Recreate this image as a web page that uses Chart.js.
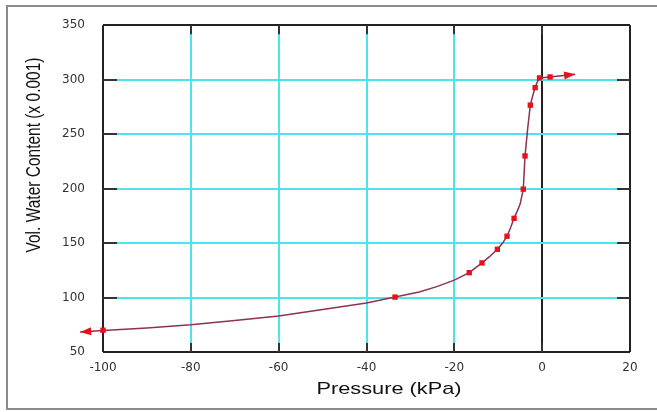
<!DOCTYPE html>
<html>
<head>
<meta charset="utf-8">
<script src="https://cdn.jsdelivr.net/npm/chart.js@4.4.1/dist/chart.umd.min.js"></script>
<style>
  html, body { margin: 0; padding: 0; background: #fff; overflow: hidden; }
  #wrap { position: relative; width: 657px; height: 412px; overflow: hidden; }
  #frame { position: absolute; left: 6px; top: 5px; width: 700px; height: 401px; border: 2px solid #8c8c8c; }
  #myChart { position: absolute; left: 0; top: 0; }
</style>
</head>
<body>
<div id="wrap">
  <div id="frame"></div>
  <canvas id="myChart" width="657" height="412"></canvas>
</div>
<script>
// 軸の目盛り
const X_TICKS = [-100, -80, -60, -40, -20, 0, 20];
const Y_TICKS = [50, 100, 150, 200, 250, 300, 350];

// 測定点 (kPa, x 0.001)
const obsPressure = [-100, -33.5, -16.6, -13.7, -10.2, -8.0, -6.4, -4.3, -3.9, -2.7, -1.6, -0.6, 1.8];
const obsWater = [70, 100.4, 122.8, 131.8, 144.3, 156.3, 172.7, 199.5, 230, 276.6, 292.7, 301.6, 302.5];

// 近似曲線。両端が矢印の先
const curvePressure = [-105.2, -100, -90, -80, -70, -60, -50, -40, -33.5, -28, -24, -20, -16.6, -13.7, -12, -10.2, -9, -8, -7.2, -6.4, -5.6, -5.0, -4.3, -3.9, -3.3, -2.7, -2.1, -1.6, -1.1, -0.6, 1.8, 7.5];
const curveWater = [68.3, 69.7, 72, 75, 79, 83, 89, 95, 100.4, 105, 110, 116, 122.8, 131.8, 137.5, 144.3, 150, 156.3, 164, 172.7, 180, 186, 199.5, 230, 255, 276.6, 286, 292.7, 298, 301.6, 302.5, 305];

const toPoints = (xs, ys) => xs.map((x, i) => ({ x, y: ys[i] }));

const CYAN = "#4fe3ee";
const DARK = "#222";
const RED = "#e8101c";

const gridColor = (edges) => (ctx) => {
  const v = ctx.tick ? ctx.tick.value : null;
  return edges.includes(v) ? DARK : CYAN;
};

// 枠の内側の短い目盛り線
const innerTicks = {
  id: "innerTicks",
  beforeDatasetsDraw(chart) {
    const { ctx, chartArea: a, scales } = chart;
    ctx.save();
    ctx.strokeStyle = "#333";
    ctx.lineWidth = 2;
    X_TICKS.slice(1, -1).forEach((v) => {
      const px = Math.round(scales.x.getPixelForValue(v));
      ctx.beginPath();
      ctx.moveTo(px, a.top); ctx.lineTo(px, a.top + 9);
      ctx.moveTo(px, a.bottom - 9); ctx.lineTo(px, a.bottom);
      ctx.stroke();
    });
    Y_TICKS.slice(1, -1).forEach((v) => {
      const py = Math.round(scales.y.getPixelForValue(v));
      ctx.beginPath();
      ctx.moveTo(a.left, py); ctx.lineTo(a.left + 14, py);
      ctx.moveTo(a.right - 13, py); ctx.lineTo(a.right, py);
      ctx.stroke();
    });
    ctx.restore();
  },
};

// 曲線の両端の矢印（枠の外にも描く）
const curveArrows = {
  id: "curveArrows",
  afterDatasetsDraw(chart) {
    const { ctx, scales } = chart;
    const n = curvePressure.length;
    const ends = [[0, 1], [n - 1, n - 2]];
    ctx.save();
    ctx.fillStyle = RED;
    ends.forEach(([tip, base]) => {
      const tx = scales.x.getPixelForValue(curvePressure[tip]);
      const ty = scales.y.getPixelForValue(curveWater[tip]);
      const bx = scales.x.getPixelForValue(curvePressure[base]);
      const by = scales.y.getPixelForValue(curveWater[base]);
      const ang = Math.atan2(ty - by, tx - bx);
      ctx.save();
      ctx.translate(tx, ty);
      ctx.rotate(ang);
      ctx.beginPath();
      ctx.moveTo(0, 0);
      ctx.lineTo(-11, -4);
      ctx.lineTo(-11, 4);
      ctx.closePath();
      ctx.fill();
      ctx.restore();
    });
    ctx.restore();
  },
};

// 軸タイトル（横に少し引き伸ばした元画像に合わせる）
const axisTitles = {
  id: "axisTitles",
  afterDraw(chart) {
    const { ctx } = chart;
    ctx.save();
    ctx.fillStyle = "#111";
    ctx.textAlign = "center";
    ctx.textBaseline = "middle";

    ctx.save();
    ctx.translate(389, 389);
    ctx.scale(1.28, 1);
    ctx.font = "17px 'Liberation Sans', Arial, sans-serif";
    ctx.fillText("Pressure (kPa)", 0, 0);
    ctx.restore();

    ctx.save();
    ctx.translate(35, 155);
    ctx.scale(1.25, 1);
    ctx.rotate(-Math.PI / 2);
    ctx.font = "15.5px 'Liberation Sans', Arial, sans-serif";
    ctx.fillText("Vol. Water Content (x 0.001)", 0, 0);
    ctx.restore();

    ctx.restore();
  },
};

const tickFont = { family: "'DejaVu Sans', sans-serif", size: 12 };

const chartConfig = {
  type: "scatter",
  data: {
    datasets: [
      {
        label: "observed",
        data: toPoints(obsPressure, obsWater),
        pointStyle: "rect",
        pointRadius: 3.8,
        backgroundColor: RED,
        borderColor: RED,
        borderWidth: 0,
        showLine: false,
        clip: false,
        order: 1,
      },
      {
        label: "fit",
        data: toPoints(curvePressure, curveWater),
        showLine: true,
        borderColor: "#8e3152",
        borderWidth: 1.5,
        pointRadius: 0,
        tension: 0,
        clip: false,
        order: 2,
      },
    ],
  },
  options: {
    responsive: false,
    animation: false,
    layout: { padding: { top: 17, right: 27, left: 0, bottom: 0 } },
    plugins: {
      legend: { display: false },
      tooltip: { enabled: false },
    },
    scales: {
      x: {
        type: "linear",
        min: -100,
        max: 20,
        afterBuildTicks: (s) => { s.ticks = X_TICKS.map((v) => ({ value: v })); },
        afterFit: (s) => { s.height = 60; },
        border: { display: false },
        grid: { color: gridColor([-100, 0, 20]), lineWidth: 2, drawTicks: false },
        ticks: { padding: 9, color: "#333", font: tickFont, maxRotation: 0 },
      },
      y: {
        type: "linear",
        min: 50,
        max: 350,
        afterBuildTicks: (s) => { s.ticks = Y_TICKS.map((v) => ({ value: v })); },
        afterFit: (s) => { s.width = 103; },
        border: { display: false },
        grid: { color: gridColor([50, 350]), lineWidth: 2, drawTicks: false },
        ticks: { padding: 18, color: "#333", font: tickFont },
      },
    },
  },
  plugins: [innerTicks, curveArrows, axisTitles],
};

new Chart(document.getElementById("myChart"), chartConfig);
</script>
</body>
</html>
